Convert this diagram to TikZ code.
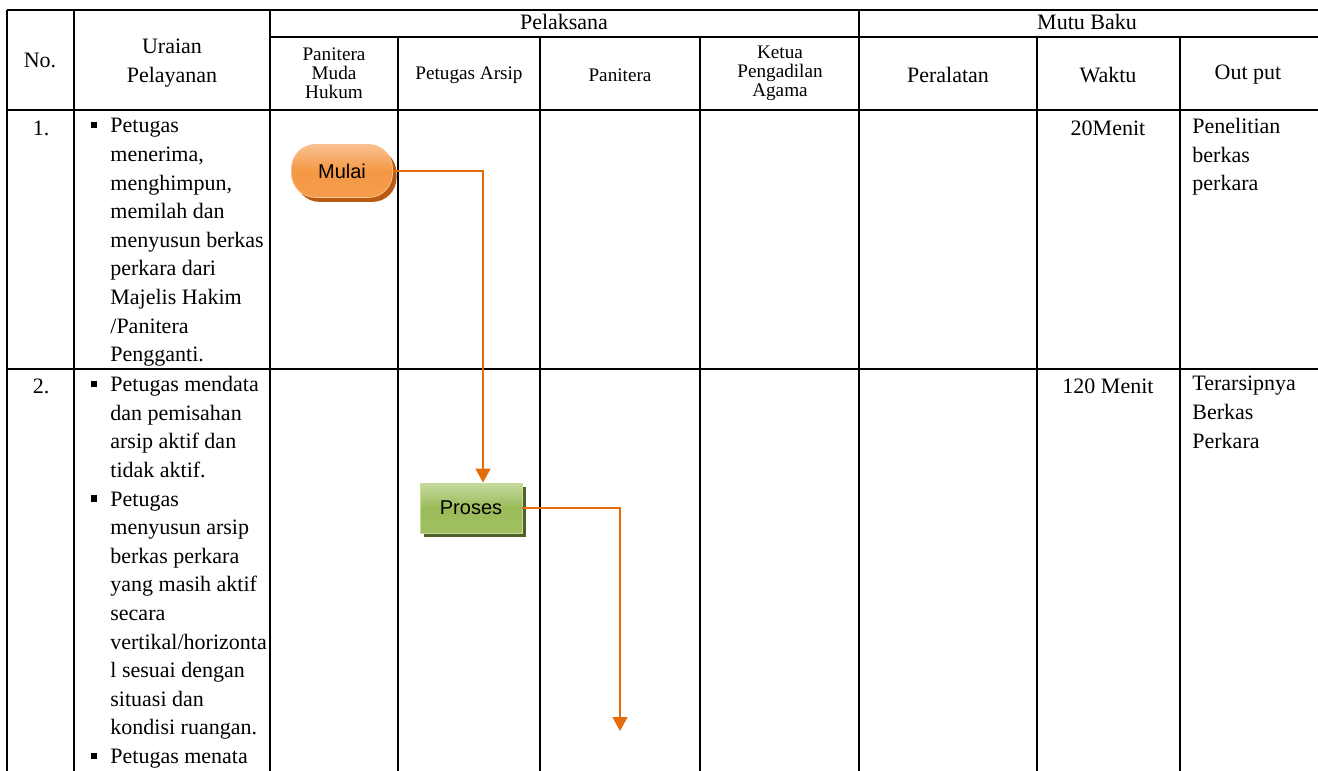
\documentclass[tikz,border=0pt]{standalone}
\usepackage{fontspec}
\setmainfont{Liberation Serif}
\newfontfamily\boxfont{Liberation Sans}
\usetikzlibrary{arrows.meta,shadows,positioning}
\definecolor{flowline}{HTML}{E46C0A}
\definecolor{mulaitop}{HTML}{FAC08F}
\definecolor{mulaimid}{HTML}{F59845}
\definecolor{mulaishade}{HTML}{B95B12}
\definecolor{prosestop}{HTML}{C6DA9F}
\definecolor{prosesbot}{HTML}{9BBB59}
\definecolor{prosesshade}{HTML}{4F6228}
\newcommand{\bul}{\llap{\raisebox{2.2pt}{\rule{3.2pt}{3.2pt}}\hspace{6.5pt}}}
\newcommand{\rowfont}{\fontsize{11}{14.3}\selectfont}
\newcommand{\subfont}{\fontsize{9.6}{9.5}\selectfont}

\begin{document}
\begin{tikzpicture}[x=0.5pt,y=-0.5pt,
  rule/.style={line width=1.25pt},
  cell/.style={inner sep=0pt,font=\rowfont,align=center},
  subcell/.style={inner sep=0pt,font=\subfont,align=center},
  txt/.style={inner sep=0pt,font=\rowfont,align=left,anchor=north west},
  flow/.style={draw=flowline,line width=0.8pt,-{Triangle[width=7.5pt,length=7pt]}},
  mulaibox/.style={rounded corners=12pt,minimum width=50.5pt,minimum height=26.5pt,
    draw=mulaitop,top color=mulaitop,bottom color=mulaimid!90!mulaitop,middle color=mulaimid,
    drop shadow={shadow xshift=2pt,shadow yshift=-2.2pt,fill=mulaishade,opacity=1},
    font=\boxfont\fontsize{10}{12}\selectfont},
  prosesbox/.style={minimum width=51pt,minimum height=25pt,
    draw=prosestop,top color=prosestop,bottom color=prosesbot!85!prosestop,middle color=prosesbot,
    drop shadow={shadow xshift=2.2pt,shadow yshift=-2.2pt,fill=prosesshade,opacity=1},
    font=\boxfont\fontsize{10}{12}\selectfont}]
\useasboundingbox (0,0) rectangle (1318,771);
  % table frame (right border lies outside the page)
\draw[rule] (7,10) -- (1318,10);
\draw[rule] (270,37) -- (1318,37);
\draw[rule] (7,110) -- (1318,110);
\draw[rule] (7,369) -- (1318,369);
\foreach \x in {7,74,270,859} {\draw[rule] (\x,10) -- (\x,771);}
\foreach \x in {398,540,700,1037,1180} {\draw[rule] (\x,37) -- (\x,771);}
  % header
\node[cell] (no) at (40,60) {No.};
\node[cell] (uraian) at (172,63) {Uraian\\Pelayanan};
\node[cell] (pelaksana) at (564,22) {Pelaksana};
\node[cell] (mutu) at (1087,22) {Mutu Baku};
\node[subcell] (pmh) at (334,73) {Panitera\\Muda\\Hukum};
\node[subcell] (arsip) at (469,75) {Petugas Arsip};
\node[subcell] (panitera) at (620,75) {Panitera};
\node[subcell] (ketua) at (780,73) {Ketua\\Pengadilan\\Agama};
\node[cell] (alat) at (948,75) {Peralatan};
\node[cell] (waktu) at (1108,75) {Waktu};
\node[cell] (output) at (1248,75) {Out put};
  % row 1
\node[cell] (n1) at (41,128) {1.};
\node[txt] (u1) at (110,118) {\bul Petugas\\menerima,\\menghimpun,\\memilah dan\\menyusun berkas\\perkara dari\\Majelis Hakim\\/Panitera\\Pengganti.};
\node[cell] (w1) at (1108,128) {20Menit};
\node[txt] (o1) at (1192,118) {Penelitian\\berkas\\perkara};
  % row 2
\node[cell] (n2) at (41,386) {2.};
\node[txt] (u2) at (110,376) {\bul Petugas mendata\\dan pemisahan\\arsip aktif dan\\tidak aktif.\\\bul Petugas\\menyusun arsip\\berkas perkara\\yang masih aktif\\secara\\vertikal/horizonta\\l sesuai dengan\\situasi dan\\kondisi ruangan.\\\bul Petugas menata};
\node[cell] (w2) at (1108,386) {120 Menit};
\node[txt] (o2) at (1192,376) {Terarsipnya\\Berkas\\Perkara};
  % flow
\node[mulaibox] (mulai) at (342,171) {Mulai};
\node[prosesbox] (proses) at (471,508) {Proses};
\coordinate (ujung) at (620,731);
\draw[flow] (mulai.east) -| ([xshift=6pt]proses.north);
\draw[flow] (proses.east) -| (ujung);
\end{tikzpicture}
\end{document}
